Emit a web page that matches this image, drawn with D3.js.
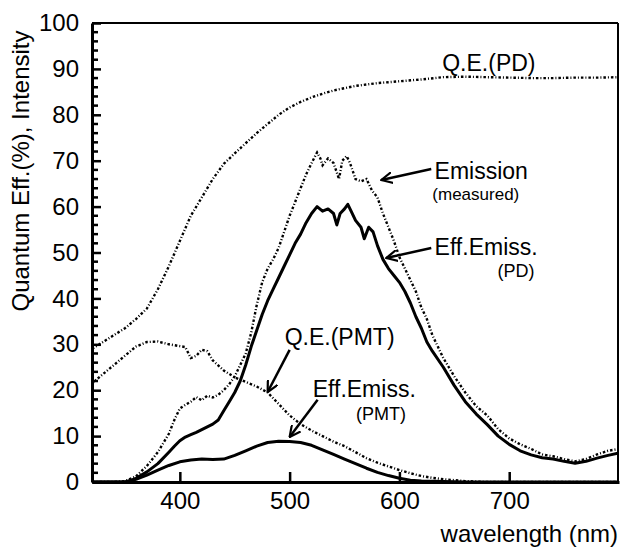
<!DOCTYPE html>
<html>
<head>
<meta charset="utf-8">
<script src="https://cdn.jsdelivr.net/npm/d3@7"></script>
<style>
  body { margin: 0; background: #fff; }
  svg { display: block; font-family: "Liberation Sans", Arial, Helvetica, sans-serif; }
</style>
</head>
<body>
<svg id="chart" width="620" height="547"></svg>
<script>
// Quantum efficiency curves (%)
const qePdWl  = [320, 330, 340, 350, 360, 370, 380, 390, 400, 410, 420, 430, 440, 450, 460, 470, 480, 490, 500, 510, 520, 530, 540, 550, 560, 570, 580, 590, 600, 620, 640, 660, 680, 700, 720, 740, 760, 780, 800];
const qePdVal = [29.0, 30.5, 32.0, 33.5, 35.5, 37.8, 42.0, 47.0, 52.5, 58.0, 62.0, 66.0, 69.3, 71.6, 73.8, 76.0, 78.0, 80.0, 81.6, 82.8, 83.8, 84.6, 85.3, 85.8, 86.3, 86.6, 86.9, 87.1, 87.3, 87.7, 88.2, 88.3, 88.2, 88.1, 88.0, 88.0, 88.1, 88.1, 88.2];

const qePmtWl  = [320, 330, 340, 350, 360, 370, 380, 390, 400, 405, 410, 415, 420, 425, 430, 440, 450, 460, 470, 480, 490, 500, 510, 520, 530, 540, 550, 560, 570, 580, 590, 600, 610, 620, 630, 640, 660, 680, 700, 800];
const qePmtVal = [21.5, 23.5, 25.5, 27.5, 29.5, 30.5, 30.6, 30.0, 29.6, 29.4, 27.0, 27.5, 28.8, 28.5, 26.5, 24.3, 22.8, 21.8, 20.8, 19.5, 17.0, 14.5, 12.6, 11.2, 10.0, 8.8, 7.8, 6.5, 5.2, 4.2, 3.4, 2.6, 1.9, 1.3, 0.9, 0.6, 0.2, 0.0, 0.0, 0.0];

// Emission (measured), intensity
const emisWl  = [320, 340, 350, 360, 370, 380, 390, 395, 400, 405, 410, 415, 420, 425, 430, 435, 440, 445, 450, 455, 460, 465, 470, 475, 480, 485, 490, 495, 500, 505, 510, 515, 520, 525, 528, 530, 535, 540, 545, 548, 552, 555, 560, 565, 570, 575, 580, 585, 590, 595, 600, 605, 610, 615, 620, 625, 630, 635, 640, 645, 650, 660, 670, 680, 690, 700, 710, 720, 730, 740, 750, 760, 770, 780, 790, 800];
const emisVal = [0.0, 0.0, 0.2, 1.2, 3.5, 6.5, 10.5, 13.5, 16.0, 16.8, 17.5, 18.5, 17.8, 18.8, 18.4, 19.0, 20.0, 21.3, 23.0, 25.5, 28.0, 32.5, 38.5, 43.5, 46.5, 48.5, 51.0, 54.5, 58.0, 61.0, 64.0, 67.0, 69.5, 71.8, 70.5, 69.0, 70.5, 69.5, 66.0, 70.0, 71.0, 69.5, 66.0, 65.5, 66.0, 63.5, 62.0, 58.5, 55.5, 52.5, 49.0, 46.5, 44.0, 41.5, 38.0, 35.5, 32.0, 29.5, 27.0, 25.0, 23.0, 19.5, 16.5, 14.5, 11.5, 9.5, 8.2, 7.2, 6.0, 5.6, 5.0, 4.5, 5.0, 6.0, 6.8, 7.2];

// Effective emission seen by the photodiode
const effPdWl  = [320, 350, 355, 360, 370, 380, 390, 395, 400, 405, 410, 415, 420, 425, 430, 435, 440, 445, 450, 455, 460, 465, 470, 475, 480, 485, 490, 495, 500, 505, 510, 515, 520, 525, 530, 535, 540, 543, 546, 550, 553, 556, 560, 565, 568, 572, 576, 580, 585, 590, 595, 600, 605, 610, 615, 620, 625, 630, 640, 650, 660, 670, 680, 690, 700, 710, 720, 730, 740, 750, 760, 770, 780, 790, 800];
const effPdVal = [0.0, 0.0, 0.3, 0.8, 2.2, 4.0, 6.5, 7.8, 9.0, 9.8, 10.3, 10.8, 11.4, 12.0, 12.6, 13.5, 15.5, 17.5, 19.5, 22.0, 25.5, 29.5, 33.0, 36.5, 39.5, 42.0, 44.5, 47.0, 49.5, 52.0, 54.0, 56.5, 58.5, 60.0, 59.0, 59.5, 58.5, 56.0, 58.5, 59.5, 60.5, 59.0, 57.0, 55.5, 53.0, 55.5, 54.5, 51.5, 48.5, 46.5, 45.0, 43.5, 41.5, 39.0, 36.0, 33.5, 30.5, 28.5, 25.0, 21.0, 17.5, 14.8, 12.5, 10.0, 8.2, 6.8, 5.9, 5.3, 5.0, 4.5, 4.1, 4.5, 5.2, 5.8, 6.3];

// Effective emission seen by the PMT
const effPmtWl  = [320, 350, 360, 370, 380, 390, 400, 410, 420, 430, 440, 450, 460, 470, 480, 490, 500, 510, 520, 530, 540, 550, 560, 570, 580, 590, 600, 610, 620, 640, 660, 800];
const effPmtVal = [0.0, 0.0, 0.6, 1.5, 2.6, 3.6, 4.4, 4.8, 5.0, 4.9, 5.0, 5.8, 6.8, 7.8, 8.6, 8.9, 8.8, 8.6, 8.0, 7.0, 6.0, 5.0, 4.0, 3.0, 2.1, 1.4, 0.8, 0.4, 0.2, 0.1, 0.0, 0.0];

const xTicks = [400, 500, 600, 700];
const yTicks = [0, 10, 20, 30, 40, 50, 60, 70, 80, 90, 100];
const yMinorTicks = [2, 4, 6, 8, 12, 14, 16, 18, 22, 24, 26, 28, 32, 34, 36, 38, 42, 44, 46, 48, 52, 54, 56, 58, 62, 64, 66, 68, 72, 74, 76, 78, 82, 84, 86, 88, 92, 94, 96, 98];

const width = 620, height = 547;
const margin = { top: 23, right: 1, bottom: 65, left: 92 };
const font = "'Liberation Sans', Arial, Helvetica, sans-serif";

const svg = d3.select("#chart");

const x = d3.scaleLinear().domain([320, 800]).range([margin.left, width - margin.right]);
const y = d3.scaleLinear().domain([0, 100]).range([height - margin.bottom, margin.top]);

const zip = (wl, val) => wl.map((w, i) => [w, val[i]]);
const line = d3.line().x(d => x(d[0])).y(d => y(d[1]));

svg.append("clipPath").attr("id", "plotClip")
    .append("rect")
    .attr("x", margin.left).attr("y", margin.top)
    .attr("width", width - margin.left - margin.right)
    .attr("height", height - margin.top - margin.bottom);

const plot = svg.append("g").attr("clip-path", "url(#plotClip)");

// dotted curves: Q.E.(PD), Q.E.(PMT), Emission (measured)
[zip(qePdWl, qePdVal), zip(qePmtWl, qePmtVal), zip(emisWl, emisVal)].forEach(data => {
    plot.append("path")
        .datum(data)
        .attr("d", line)
        .attr("fill", "none")
        .attr("stroke", "#000")
        .attr("stroke-width", 2.4)
        .attr("stroke-dasharray", "2.5,2,1,2");
});

// solid curves: effective emission
[zip(effPdWl, effPdVal), zip(effPmtWl, effPmtVal)].forEach(data => {
    plot.append("path")
        .datum(data)
        .attr("d", line)
        .attr("fill", "none")
        .attr("stroke", "#000")
        .attr("stroke-width", 3)
        .attr("stroke-linejoin", "round");
});

// top and right frame
svg.append("line").attr("x1", margin.left).attr("x2", width - margin.right - 1)
    .attr("y1", margin.top).attr("y2", margin.top)
    .attr("stroke", "#000").attr("stroke-width", 2);
svg.append("line").attr("x1", width - margin.right - 1).attr("x2", width - margin.right - 1)
    .attr("y1", margin.top).attr("y2", height - margin.bottom)
    .attr("stroke", "#000").attr("stroke-width", 2);

// y axis: labels on major ticks, inward tick marks
const yAxis = svg.append("g")
    .attr("transform", `translate(${margin.left},0)`)
    .call(d3.axisLeft(y).tickValues(yTicks).tickSize(0).tickPadding(13));
yAxis.select(".domain").attr("stroke", "#000").attr("stroke-width", 3);
yAxis.selectAll(".tick line").attr("x1", 0).attr("x2", 9).attr("stroke", "#000").attr("stroke-width", 2.5);
yAxis.selectAll(".tick text")
    .attr("font-size", 24)
    .attr("font-family", font)
    .attr("fill", "#000");

svg.append("g")
    .selectAll("line")
    .data(yMinorTicks)
    .join("line")
    .attr("x1", margin.left).attr("x2", margin.left + 6)
    .attr("y1", d => y(d)).attr("y2", d => y(d))
    .attr("stroke", "#000")
    .attr("stroke-width", 2.5);

// x axis
const xAxis = svg.append("g")
    .attr("transform", `translate(0,${height - margin.bottom})`)
    .call(d3.axisBottom(x).tickValues(xTicks).tickSize(0).tickPadding(10));
xAxis.select(".domain").attr("stroke", "#000").attr("stroke-width", 3);
xAxis.selectAll(".tick line").attr("y1", 0).attr("y2", -10).attr("stroke", "#000").attr("stroke-width", 2.5);
xAxis.selectAll(".tick text")
    .attr("font-size", 24)
    .attr("font-family", font)
    .attr("fill", "#000");

// axis titles
svg.append("text")
    .attr("transform", "translate(29,171) rotate(-90)")
    .attr("text-anchor", "middle")
    .attr("font-size", 24)
    .text("Quantum Eff.(%), Intensity");

svg.append("text")
    .attr("x", 618).attr("y", 542)
    .attr("text-anchor", "end")
    .attr("font-size", 24)
    .text("wavelength (nm)");

// annotations, positioned in data units
const labels = [
    { text: "Q.E.(PD)", wl: 639, v: 89.5, size: 23, anchor: "start" },
    { text: "Emission", wl: 632, v: 66.0, size: 23, anchor: "start" },
    { text: "(measured)", wl: 630, v: 61.4, size: 17, anchor: "start" },
    { text: "Eff.Emiss.", wl: 632, v: 49.5, size: 23, anchor: "start" },
    { text: "(PD)", wl: 723, v: 44.6, size: 18, anchor: "end" },
    { text: "Q.E.(PMT)", wl: 495.5, v: 29.8, size: 23, anchor: "start" },
    { text: "Eff.Emiss.", wl: 521, v: 18.5, size: 23, anchor: "start" },
    { text: "(PMT)", wl: 606, v: 13.4, size: 18, anchor: "end" }
];
svg.selectAll("text.note")
    .data(labels)
    .join("text")
    .attr("class", "note")
    .attr("x", d => x(d.wl))
    .attr("y", d => y(d.v))
    .attr("text-anchor", d => d.anchor)
    .attr("font-size", d => d.size)
    .text(d => d.text);

const arrows = [
    { from: [629, 68.2], to: [583.6, 65.8] },
    { from: [629, 51.0], to: [588, 48.8] },
    { from: [500, 28.8], to: [480, 19.6] },
    { from: [525.5, 17.9], to: [500, 9.8] }
];
svg.append("defs").append("marker")
    .attr("id", "head")
    .attr("viewBox", "0 -6 12 12")
    .attr("refX", 11).attr("refY", 0)
    .attr("markerWidth", 12).attr("markerHeight", 12)
    .attr("markerUnits", "userSpaceOnUse")
    .attr("orient", "auto")
    .append("path")
    .attr("d", "M0,-5.5L11,0L0,5.5")
    .attr("fill", "none")
    .attr("stroke", "#000")
    .attr("stroke-width", 2.2);

svg.selectAll("line.arrow")
    .data(arrows)
    .join("line")
    .attr("class", "arrow")
    .attr("x1", d => x(d.from[0])).attr("y1", d => y(d.from[1]))
    .attr("x2", d => x(d.to[0])).attr("y2", d => y(d.to[1]))
    .attr("stroke", "#000")
    .attr("stroke-width", 2.5)
    .attr("marker-end", "url(#head)");
</script>
</body>
</html>
